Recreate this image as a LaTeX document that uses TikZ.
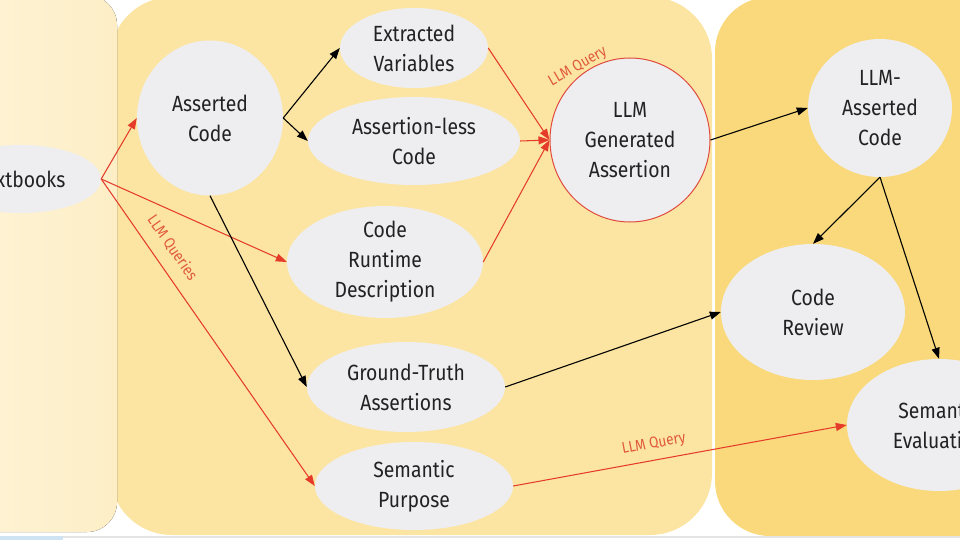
\documentclass[tikz,border=0pt]{standalone}
\usepackage{fontspec}
\setmainfont{Fira Sans}[FakeStretch=0.88]
\usetikzlibrary{shapes.geometric,arrows.meta}
\definecolor{leftA}{HTML}{FEF4D9}
\definecolor{leftB}{HTML}{FDEEC6}
\definecolor{midpanel}{HTML}{FCE5A3}
\definecolor{rightpanel}{HTML}{F9D97B}
\definecolor{nodegray}{HTML}{EEEEF0}
\definecolor{textc}{HTML}{222222}
\definecolor{arrred}{HTML}{E43B2B}
\definecolor{labred}{HTML}{E05A3C}
\definecolor{circred}{HTML}{E04A3C}
\definecolor{stripgray}{HTML}{E4E4E4}
\definecolor{stripblue}{HTML}{CFE4F2}
\begin{document}
\begin{tikzpicture}[x=1pt,y=-1pt,
  ell/.style={ellipse, fill=nodegray, inner sep=-20pt, align=center, text=textc,
    font=\fontsize{22}{30}\selectfont},
  blkarrow/.style={draw=black, line width=1.1pt, -{Triangle[length=11pt,width=8pt]}},
  redarrow/.style={draw=arrred, line width=1.05pt, -{Triangle[length=11pt,width=8pt]}},
  qlabel/.style={text=labred, inner sep=2pt, font=\fontsize{15.5}{17}\selectfont}]
\useasboundingbox (0,0) rectangle (960,540);
\clip (0,0) rectangle (960,540);
\fill[white] (0,0) rectangle (960,540);
% panels
\fill[rightpanel, rounded corners=55pt] (715,-3) rectangle (1040,536);
\fill[midpanel, rounded corners=62pt] (110,-3) rectangle (712,535);
\fill[left color=leftA, right color=leftB, rounded corners=30pt] (-60,-5) rectangle (117,532);
% bottom strip
\fill[stripgray] (0,535.5) rectangle (960,538);
\fill[stripblue] (0,535.5) rectangle (63,540);
% nodes
\node[ell, minimum width=160pt, minimum height=68pt] (tb) at (21,179) {Textbooks};
\node[ell, minimum width=146pt, minimum height=155pt] (ac) at (210,118) {Asserted\\Code};
\node[ell, minimum width=148pt, minimum height=80pt] (ev) at (414,48) {Extracted\\Variables};
\node[ell, minimum width=212pt, minimum height=88pt] (al) at (414,141) {Assertion-less\\Code};
\node[ell, minimum width=196pt, minimum height=112pt] (cr) at (385,262) {Code\\Runtime\\Description};
\node[ell, minimum width=198pt, minimum height=90pt] (gt) at (406,387) {Ground-Truth\\Assertions};
\node[ell, minimum width=198pt, minimum height=88pt] (sp) at (414,486) {Semantic\\Purpose};
\node[ell, draw=circred, line width=1pt, minimum width=160pt, minimum height=164pt] (lg) at (630,140) {LLM\\Generated\\Assertion};
\node[ell, minimum width=144pt, minimum height=138pt] (lac) at (880,108) {LLM-\\Asserted\\Code};
\node[ell, minimum width=184pt, minimum height=136pt] (crv) at (813,312) {Code\\Review};
\node[ell, minimum width=184pt, minimum height=132pt] (se) at (939,425) {Semantic\\Evaluation};
\node[qlabel, rotate=30] (lq) at (578,67) {LLM Query};
% connectors
\draw[redarrow] (tb.east) -- (ac.west);
\draw[redarrow] (tb.east) -- (cr.west);
\draw[redarrow] (tb.east) -- node[qlabel, sloped, pos=0.26, above=10pt] (lqs) {LLM Queries} (sp.west);
\draw[blkarrow] (ac.east) -- (ev.west);
\draw[blkarrow] (ac.east) -- (al.west);
\draw[blkarrow] (ac.south) -- (gt.west);
\draw[redarrow] (ev.east) -- (lg.west);
\draw[redarrow] (al.east) -- (lg.west);
\draw[redarrow] (cr.east) -- (lg.west);
\draw[blkarrow] (lg.east) -- (lac.west);
\draw[blkarrow] (lac.south) -- (crv.north);
\draw[blkarrow] (lac.south) -- (se.north);
\draw[blkarrow] (gt.east) -- (crv.west);
\draw[redarrow] (sp.east) -- node[qlabel, sloped, pos=0.43, above=6pt] (lqb) {LLM Query} (se.west);
\end{tikzpicture}
\end{document}
